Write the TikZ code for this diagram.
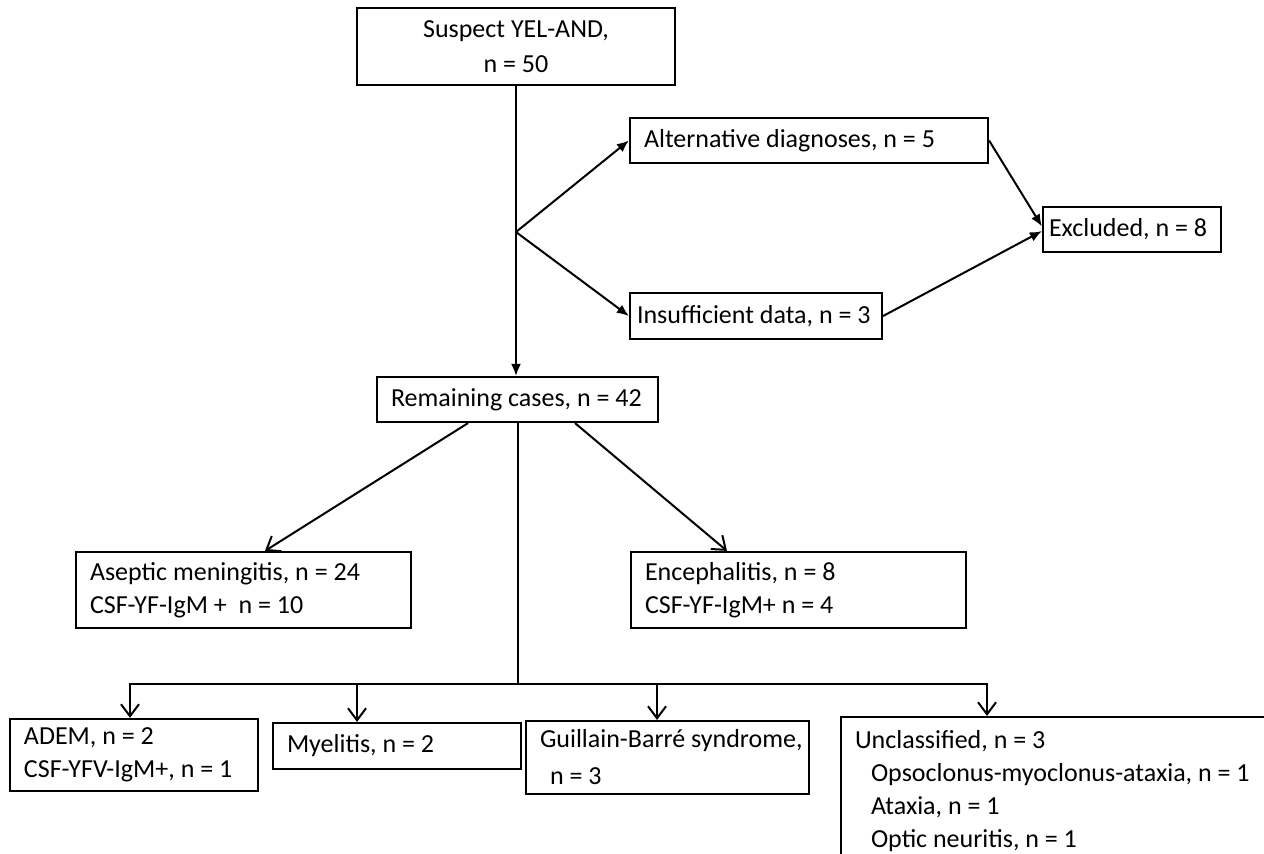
\documentclass[tikz,border=0pt]{standalone}
\usepackage{fontspec}
\setmainfont{Carlito}
\usetikzlibrary{arrows.meta}

\tikzset{
  flowbox/.style={draw, line width=1.1pt, rectangle, inner xsep=7pt, inner ysep=0pt, align=flush left, font=\fontsize{13}{16.5}\selectfont},
  solidhead/.style={line width=1pt, -{Latex[length=6pt,width=5pt]}},
  openhead/.style={line width=1pt, -{Straight Barb[length=6pt,width=9pt]}},
}

\begin{document}
\begin{tikzpicture}[x=0.5pt,y=0.5pt,yscale=-1,xscale=1]
\clip (0,0) rectangle (1264,853);

% Text Node
\node [flowbox, align=flush center, text width=145pt, minimum height=38.5pt] (suspect) at (516,46.5) {Suspect YEL-AND,\\[1pt]n = 50};
% Text Node
\node [flowbox, text width=165pt, minimum height=22.5pt] (alternative) at (809,140.5) {Alternative diagnoses, n = 5};
% Text Node
\node [flowbox, inner xsep=3pt, text width=83pt, minimum height=22.5pt] (excluded) at (1132,229.5) {Excluded, n = 8};
% Text Node
\node [flowbox, inner xsep=3.5pt, text width=119pt, minimum height=23pt] (insufficient) at (756,316) {Insufficient data, n = 3};
% Text Node
\node [flowbox, text width=126.5pt, minimum height=22.5pt] (remaining) at (517.5,399.5) {Remaining cases, n = 42};
% Text Node
\node [flowbox, text width=153.5pt, minimum height=38pt] (aseptic) at (243.5,590) {Aseptic meningitis, n = 24\\CSF-YF-IgM +\ \ n = 10};
% Text Node
\node [flowbox, text width=153.5pt, minimum height=38pt] (encephalitis) at (798.5,590) {Encephalitis, n = 8\\CSF-YF-IgM+ n = 4};
% Text Node
\node [flowbox, text width=110pt, minimum height=36pt] (adem) at (134,755) {ADEM, n = 2\\CSF-YFV-IgM+, n = 1};
% Text Node
\node [flowbox, text width=110pt, minimum height=23pt] (myelitis) at (397,746) {Myelitis, n = 2};
% Text Node
\node [flowbox, text width=127.5pt, minimum height=36.5pt] (gbs) at (667.5,757.5) {\mbox{Guillain-Barré syndrome,}\\[2pt]\hspace*{5pt}n = 3};
% Text Node
\node [flowbox, text width=205.5pt, minimum height=74pt] (unclassified) at (1060.5,791) {Unclassified, n = 3\\\hspace*{8pt}Opsoclonus-myoclonus-ataxia, n = 1\\\hspace*{8pt}Ataxia, n = 1\\\hspace*{8pt}Optic neuritis, n = 1};

\coordinate (split) at (516,232);
\coordinate (hub) at (517,684);

%Straight Lines
\draw [line width=1pt] (suspect.south) -- (split);
\draw [solidhead] (split) -- (split |- remaining.north);
\draw [solidhead] (split) -- (alternative.west);
\draw [solidhead] (split) -- (insufficient.west);
\draw [solidhead] (alternative.east) -- (excluded.178);
\draw [solidhead] (insufficient.east) -- (excluded.181);

%Straight Lines
\draw [openhead] ([xshift=-24.75pt]remaining.south) -- ([xshift=10.75pt]aseptic.north);
\draw [openhead] ([xshift=28.75pt]remaining.south) -- ([xshift=-35.75pt]encephalitis.north);
\draw [line width=1pt] (remaining.south |- hub) -- (remaining.south);

%Straight Lines
\draw [openhead] (hub) -| ([xshift=-2pt]adem.north);
\draw [openhead] (hub) -| ([xshift=-20pt]myelitis.north);
\draw [openhead] (hub) -| ([xshift=-5.25pt]gbs.north);
\draw [openhead] (hub) -| ([xshift=-36.75pt]unclassified.north);

\end{tikzpicture}
\end{document}
